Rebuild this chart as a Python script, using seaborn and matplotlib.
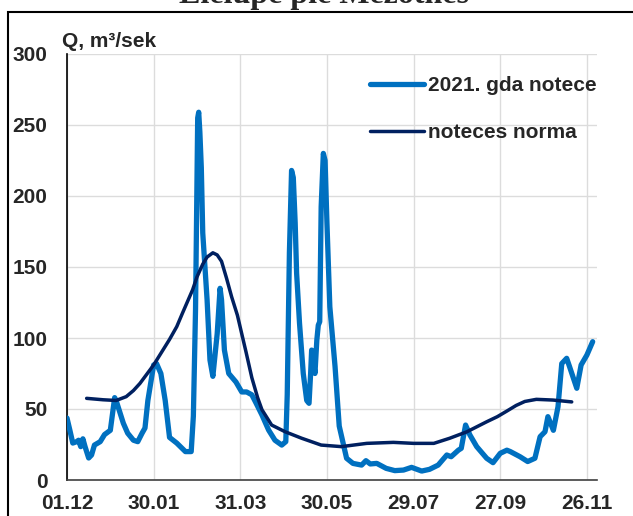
import numpy as np
import pandas as pd
import seaborn as sns
import matplotlib.pyplot as plt
from matplotlib.patches import Rectangle

# days since 01.12 and flow, 2021 season
flow_days = [0, 2, 4, 6.7, 8, 9.5, 11, 12.5, 15, 17, 19, 23, 26, 30, 33, 34, 39, 42, 46, 49,
             52, 54, 56, 60, 62, 65, 68, 71, 76, 82, 86, 87.5, 89, 90.5, 91.2, 92, 93, 94, 97, 99,
             101, 104, 106, 107, 109, 112, 117, 121, 124.4, 128, 131, 135, 139.6, 144, 148.7, 151.5,
             152.5, 154, 155.5, 156.7, 158, 159, 161, 163.6, 166, 167.6, 168.7, 169.4, 170, 171.7,
             173, 174, 175, 176, 177.5, 178.7, 180, 182, 185.6, 188.5, 193.6, 198, 204, 207, 210,
             214.5, 221, 227, 233, 238.6, 245.6, 251, 257, 263, 266, 271, 273, 276, 279, 283.7,
             290.6, 295, 300, 304.6, 307, 313.7, 319, 324, 327.6, 331, 333, 336.8, 340, 342.6,
             346, 348, 353, 356, 360, 364]
flow_2021 = [43.6, 35, 26, 27, 28, 23.5, 29, 23.5, 15.5, 17.6, 24.6, 27, 32, 35, 58, 56, 40, 33, 28, 27,
             33, 36.6, 56, 81, 82, 75, 56, 30, 26, 20, 20, 45, 120, 255, 259, 245, 220, 174, 127, 84.5,
             73, 103, 135, 127, 91.5, 75, 69, 62, 62, 60, 54, 45.8, 35.2, 28, 24.6, 27,
             60, 160, 218, 213, 181, 145.6, 110.5, 75, 56, 54, 75, 91.5, 89, 75,
             98.6, 109, 111.5, 192.5, 230, 225, 181, 122, 80, 38, 15.3, 11.7, 10.5, 13.6, 11.3,
             11.7, 8.2, 6.6, 7, 8.9, 6.3, 7.5, 10.5, 17.6, 16.4, 21, 22.3, 38.7, 31.7, 23.5,
             15.3, 12.2, 18.8, 21, 20, 16.4, 13, 15.3, 30.5, 34, 44.6, 35, 51.6, 82,
             85.7, 79.8, 64.6, 81, 88, 97.4]

# long-term norm
norm_days = [13.6, 25, 34, 41, 46, 50.5, 60, 71, 76, 80, 87, 90, 94, 97, 101, 104, 107, 110.5,
             114, 118, 121, 124, 128, 132, 135, 141.7, 151, 162.5, 176, 190, 207.6, 226, 240,
             254, 265, 277, 290.6, 298, 304.5, 311, 317, 325, 336.5, 349.5]
norm_flow = [57.5, 56.5, 56, 58.7, 63, 68, 81, 99, 108, 117.6, 134, 143, 152, 157, 160, 158.5, 154, 142,
             129, 116, 103, 90, 72, 58, 49.5, 38.7, 34, 29.4, 24.6, 23.5, 25.8, 26.5, 25.8,
             25.8, 29.4, 34, 41, 44.6, 48.5, 52.5, 55.3, 56.8, 56.3, 55]

tick_days = [0, 60, 120, 180, 240, 300, 360]
tick_labels = ['01.12', '30.01', '31.03', '30.05', '29.07', '27.09', '26.11']

df_flow = pd.DataFrame({'day': flow_days, 'Q': flow_2021})
df_norm = pd.DataFrame({'day': norm_days, 'Q': norm_flow})

sns.set_style('white')
plt.rcParams['font.family'] = ['Liberation Sans', 'DejaVu Sans']
plt.rcParams['font.weight'] = 'bold'

W, H = 633, 516
fig = plt.figure(figsize=(W / 100, H / 100), dpi=100)
ax = fig.add_axes([67 / W, 1 - 480 / H, (597 - 67) / W, (480 - 54) / H])

sns.lineplot(data=df_flow, x='day', y='Q', ax=ax, color='#0070C0', lw=3.8,
             estimator=None, sort=False, label='2021. gda notece',
             solid_joinstyle='round', solid_capstyle='round', zorder=3)
sns.lineplot(data=df_norm, x='day', y='Q', ax=ax, color='#002060', lw=2.5,
             estimator=None, sort=False, label='noteces norma',
             solid_joinstyle='round', solid_capstyle='round', zorder=4)

ax.set_xlim(0, 367)
ax.set_ylim(0, 300)
ax.set_xticks(tick_days)
ax.set_xticklabels(tick_labels)
ax.set_yticks(range(0, 301, 50))
ax.set_xlabel('')
ax.set_ylabel('')
ax.grid(True, color='#dcdcdc', lw=1)
ax.set_axisbelow(True)
for s in ['top', 'right']:
    ax.spines[s].set_visible(False)
ax.spines['left'].set_color('black')
ax.spines['left'].set_linewidth(1.2)
ax.spines['bottom'].set_color('#404040')
ax.spines['bottom'].set_linewidth(1.2)
ax.tick_params(axis='y', length=0, pad=14, labelsize=15)
ax.tick_params(axis='x', length=0, pad=10, labelsize=15)
for lab in ax.get_xticklabels() + ax.get_yticklabels():
    lab.set_fontweight('bold')

leg = ax.legend(loc='center left', bbox_to_anchor=(370 / W, 1 - 109 / H),
                bbox_transform=fig.transFigure, frameon=False, fontsize=15,
                handlelength=2.6, handletextpad=0.2, labelspacing=1.35,
                borderpad=0, borderaxespad=0)
for t in leg.get_texts():
    t.set_fontweight('bold')

fig.text(62 / W, 1 - 47 / H, 'Q, m³/sek', ha='left', va='baseline',
         fontsize=15, fontweight='bold')
# title is clipped at the top edge, as in the original export
fig.text(324 / W, 1 - 3 / H, 'Lielupe pie Mežotnes', ha='center', va='baseline',
         fontsize=23, fontweight='bold', family=['Liberation Serif', 'DejaVu Serif'])

# outer chart frame
fig.patches.append(Rectangle((8 / W, -0.05), 1.0, 1.05 - 12 / H, transform=fig.transFigure,
                             fill=False, lw=1.5, ec='black', clip_on=False))

fig.savefig('out.png', dpi=100)
